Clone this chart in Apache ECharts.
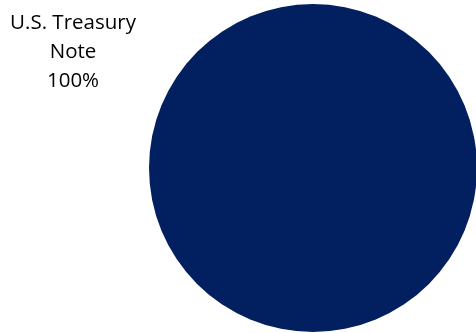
<!DOCTYPE html>
<html>
<head>
<meta charset="utf-8">
<script src="https://cdn.jsdelivr.net/npm/echarts@6/dist/echarts.min.js"></script>
<style>
  html, body { margin: 0; padding: 0; background: #ffffff; }
  #chart { width: 476px; height: 333px; }
</style>
</head>
<body>
<div id="chart"></div>
<script>
// Portfolio composition by security type
const categories = ['U.S. Treasury Note'];
const shares = [100];
const sliceColors = ['#022060'];

const chart = echarts.init(document.getElementById('chart'), null, { renderer: 'canvas' });

chart.setOption({
  animation: false,
  backgroundColor: '#ffffff',
  series: [{
    type: 'pie',
    center: [313, 168],
    radius: [0, 164],
    startAngle: 90,
    silent: true,
    data: categories.map((name, i) => ({
      name: name,
      value: shares[i],
      itemStyle: { color: sliceColors[i] }
    })),
    itemStyle: { borderWidth: 0 },
    label: {
      show: true,
      position: 'outside',
      formatter: (p) => p.name.replace(/ (\S+)$/, '\n$1') + '\n' + Math.round(p.percent) + '%',
      fontFamily: 'Open Sans',
      fontSize: 20.5,
      lineHeight: 29,
      color: '#000000',
      align: 'center'
    },
    labelLine: { show: false },
    labelLayout: {
      x: 73,
      y: 52,
      align: 'center',
      verticalAlign: 'middle'
    }
  }]
});
</script>
</body>
</html>
